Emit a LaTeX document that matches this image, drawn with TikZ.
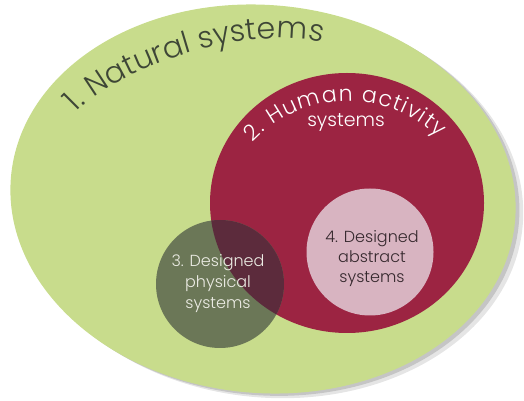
\documentclass[tikz,border=0pt]{standalone}
\usepackage{fontspec}
\setmainfont{Poppins}[UprightFont={* Light}]
\usetikzlibrary{decorations.text}
\definecolor{natgreen}{HTML}{C8DC8C}
\definecolor{humred}{HTML}{9C2442}
\definecolor{physgreen}{HTML}{6B7757}
\definecolor{overlapred}{HTML}{5C2B3C}
\definecolor{abspink}{HTML}{D8B4C1}
\definecolor{nattext}{HTML}{3E4636}
\definecolor{abstext}{HTML}{35282D}
\definecolor{lighttext}{HTML}{ECECE4}

\tikzset{
  physlabel/.style={align=center,text=lighttext,font=\fontsize{16}{21}\selectfont},
  abslabel/.style={align=center,text=abstext,font=\fontsize{16}{20}\selectfont},
  humlabel/.style={text=white,font=\fontsize{19}{20}\selectfont},
}

\begin{document}
\begin{tikzpicture}[x=1pt,y=1pt]
  \useasboundingbox (0,0) rectangle (524,401);
  % outer ellipse with its shadow
  \fill[black,opacity=.10,rotate around={-5:(263,202)}] (271,198) ellipse (253 and 194);
  \fill[black,opacity=.14,rotate around={-5:(263,202)}] (267,200) ellipse (253 and 194);
  \fill[natgreen,rotate around={-5:(263,202)}] (263,202) ellipse (253 and 194);
  % inner circles
  \fill[humred] (347,198) ellipse (137 and 130);
  \fill[physgreen] (220,117) circle (64);
  \begin{scope}
    \clip (220,117) circle (64);
    \fill[overlapred] (347,198) ellipse (137 and 130);
  \end{scope}
  \fill[abspink] (370,149) circle (63.5);
  % curved titles
  \path[decorate,decoration={text along path,text align=fit to path,text color=nattext,
    text={|\fontsize{30}{30}\selectfont|1. Natural systems}}]
    (76,288) .. controls (116,332) and (245,378) .. (322,358);
  \path[decorate,decoration={text along path,text align=fit to path,text color=white,
    text={|\fontsize{22}{22}\selectfont|2. Human activity}}]
    (348,170) ++(137:130) arc[start angle=137,end angle=46,radius=130];
  % labels
  \node[humlabel] (humsys) at (346,279) {systems};
  \node[physlabel] (phys) at (218,117) {3. Designed\\physical\\systems};
  \node[abslabel] (abs) at (372,142) {4. Designed\\abstract\\systems};
\end{tikzpicture}
\end{document}
